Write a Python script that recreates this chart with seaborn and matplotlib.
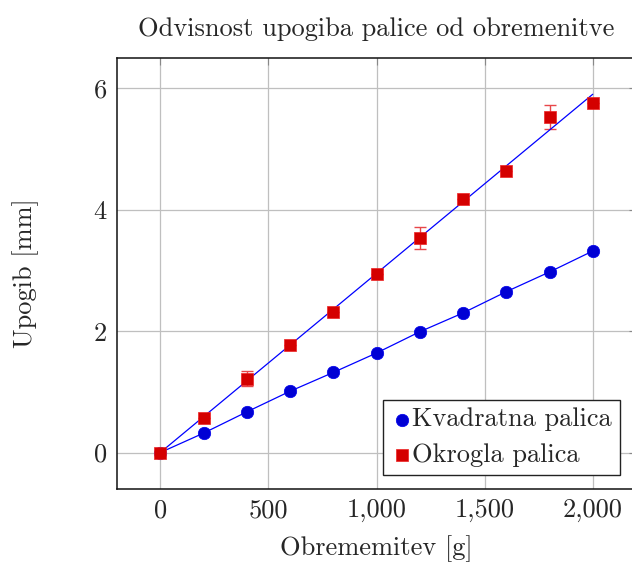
import numpy as np
import pandas as pd
import matplotlib
matplotlib.use("Agg")
import matplotlib.pyplot as plt
import seaborn as sns
from matplotlib.ticker import FuncFormatter

# podatki
obremenitev = [0, 200, 400, 600, 800, 1000, 1200, 1400, 1600, 1800, 2000]
kvadratna = [0.0, 0.32, 0.67, 1.01, 1.32, 1.64, 1.99, 2.30, 2.65, 2.975, 3.32]
okrogla = [0.0, 0.57, 1.22, 1.77, 2.32, 2.94, 3.54, 4.17, 4.645, 5.53, 5.76]
okrogla_napaka = [0.0, 0.0, 0.12, 0.0, 0.0, 0.0, 0.18, 0.0, 0.0, 0.2, 0.0]

df = pd.DataFrame({"x": obremenitev, "kv": kvadratna, "ok": okrogla, "err": okrogla_napaka})

# linearni fit skozi izhodisce za okroglo palico
x = np.array(obremenitev, dtype=float)
k_ok = np.sum(x * np.array(okrogla)) / np.sum(x * x)
fit = pd.DataFrame({"x": [x.min(), x.max()], "y": [k_ok * x.min(), k_ok * x.max()]})

sns.set_style("whitegrid")
plt.rcParams["font.family"] = ["cmr10", "DejaVu Serif"]
plt.rcParams["axes.formatter.use_mathtext"] = True
plt.rcParams["mathtext.fontset"] = "cm"

fig = plt.figure(figsize=(6.32, 5.65), dpi=100)
ax = fig.add_axes([117 / 632, 1 - 489 / 565, 519 / 632, 431 / 565])

ax.errorbar(df["x"], df["ok"], yerr=df["err"], fmt="none", ecolor="#e8474a",
            elinewidth=1.0, capsize=4, capthick=1.0, zorder=2)
sns.lineplot(data=df, x="x", y="kv", ax=ax, color="#0000ff", linewidth=0.9, zorder=3)
sns.lineplot(data=fit, x="x", y="y", ax=ax, color="#0000ff", linewidth=0.9, zorder=3)
sns.scatterplot(data=df, x="x", y="kv", ax=ax, marker="o", s=80, color="#0000d4",
                edgecolor="#0000ee", linewidth=0.5, label="Kvadratna palica", zorder=4)
sns.scatterplot(data=df, x="x", y="ok", ax=ax, marker="s", s=70, color="#d40000",
                edgecolor="#ee2222", linewidth=0.5, label="Okrogla palica", zorder=4)

ax.set_xlim(-200, 2200)
ax.set_ylim(-0.6, 6.5)
ax.set_xticks([0, 500, 1000, 1500, 2000])
ax.set_yticks([0, 2, 4, 6])
ax.xaxis.set_major_formatter(FuncFormatter(lambda v, p: f"{v:,.0f}"))
ax.grid(True, color="#bfbfbf", linewidth=0.9)
for s in ax.spines.values():
    s.set_color("#111111")
    s.set_linewidth(1.1)
ax.tick_params(axis="both", direction="in", length=5, color="#888888",
               labelsize=19, top=True, right=True, pad=7)

ax.set_title("Odvisnost upogiba palice od obremenitve", fontsize=19, pad=16)
ax.set_xlabel("Obrememitev [g]", fontsize=19, labelpad=9)
ax.set_ylabel("Upogib [mm]", fontsize=19, labelpad=39)

leg = ax.legend(loc="lower right", bbox_to_anchor=(0.969, 0.0325), borderaxespad=0,
                fontsize=19, frameon=True, fancybox=False, edgecolor="#222222",
                handletextpad=0.0, borderpad=0.3, labelspacing=0.45, handlelength=0.8)
leg.get_frame().set_linewidth(1.0)
leg.get_frame().set_alpha(1)

fig.savefig("out.png", dpi=100)
